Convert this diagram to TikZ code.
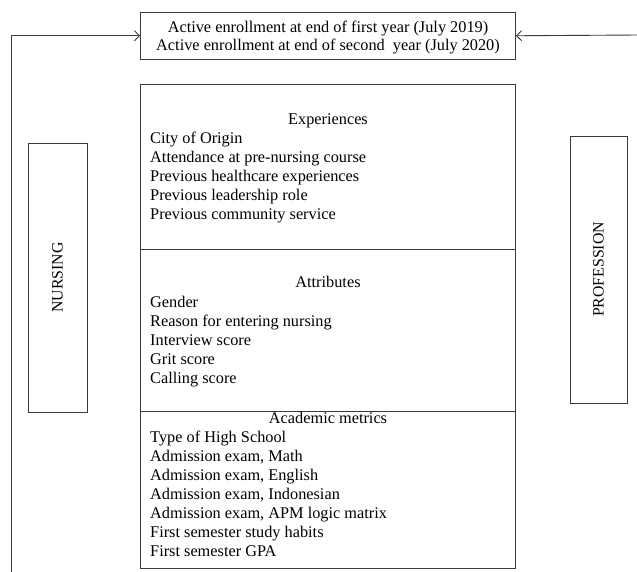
\documentclass[tikz,border=0pt]{standalone}
\usepackage{fontspec}
\setmainfont{Liberation Serif}
\usetikzlibrary{arrows.meta}
\definecolor{linegray}{HTML}{3A3A3A}
\tikzset{
  boxstyle/.style={draw=linegray, line width=0.9pt, inner sep=0pt, minimum width=#1},
  txt/.style={inner sep=0pt, font=\fontsize{16.3}{19}\selectfont, text=black},
  item/.style={txt, anchor=base west},
  head/.style={txt, anchor=base},
  vert/.style={txt, rotate=90, font=\fontsize{15.8}{19}\selectfont},
  arr/.style={draw=linegray, line width=0.9pt, -{Straight Barb[length=5pt,width=10pt,line width=0.9pt]}}
}
\begin{document}
\begin{tikzpicture}[x=1pt,y=-1pt]
\useasboundingbox (0,0) rectangle (637,571);
% top box
\node[boxstyle=375pt, minimum height=46.5pt] (topbox) at (328,35.75) {};
\node[head] (t1) at (328,32) {Active enrollment at end of first year (July 2019)};
\node[head] (t2) at (328,50.5) {Active enrollment at end of second~ year (July 2020)};
% main boxes
\node[boxstyle=375pt, minimum height=164.5pt] (expbox) at (328,166.75) {};
\node[boxstyle=375pt, minimum height=162pt] (attbox) at (328,330) {};
\node[boxstyle=375pt, minimum height=157pt] (acabox) at (328,489.5) {};
% side boxes
\node[boxstyle=59pt, minimum height=269pt] (nursebox) at (57.5,277.5) {};
\node[vert] (nurse) at (nursebox.center) {NURSING};
\node[boxstyle=57pt, minimum height=267pt] (profbox) at (598.5,269.5) {};
\node[vert] (prof) at (profbox.center) {PROFESSION};
% Experiences
\node[head] (exph) at (328,124.5) {Experiences};
\foreach \t [count=\i from 0] in {City of Origin, Attendance at pre-nursing course, Previous healthcare experiences, Previous leadership role, Previous community service}
  \node[item] (exp\i) at (150,143+19.2*\i) {\t};
% Attributes
\node[head] (atth) at (328,287) {Attributes};
\foreach \t [count=\i from 0] in {Gender, Reason for entering nursing, Interview score, Grit score, Calling score}
  \node[item] (att\i) at (150,307+19*\i) {\t};
% Academic metrics
\node[head] (acah) at (328,423) {Academic metrics};
\foreach \t [count=\i from 0] in {Type of High School, {Admission exam, Math}, {Admission exam, English}, {Admission exam, Indonesian}, {Admission exam, APM logic matrix}, First semester study habits, First semester GPA}
  \node[item] (aca\i) at (150,442+19*\i) {\t};
% connectors
\coordinate (lstart) at (11.5,572);
\coordinate (rstart) at (638,35);
\draw[arr] (lstart) |- (topbox.west);
\draw[arr] (rstart) -- (topbox.east);
\end{tikzpicture}
\end{document}
